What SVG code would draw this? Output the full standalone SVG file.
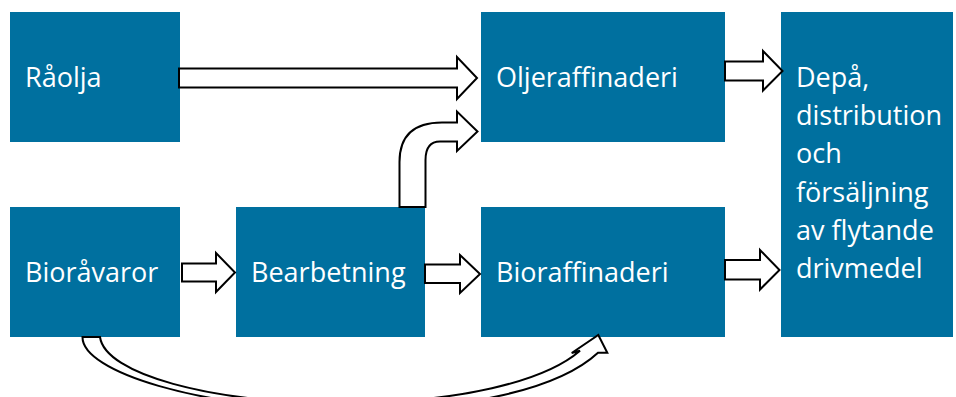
<svg xmlns="http://www.w3.org/2000/svg" width="956" height="397" viewBox="0 0 956 397">
  <style>
    .box { fill: #00709f; }
    .lbl { fill: #ffffff; font-family: "Open Sans", "Liberation Sans", sans-serif; font-size: 27px; }
    .arr { fill: #ffffff; stroke: #000000; stroke-width: 2; stroke-linejoin: miter; }
  </style>
  <rect width="956" height="397" fill="#ffffff"/>
  <g id="raolja">
    <rect class="box" x="10" y="12" width="170" height="130"/>
    <text class="lbl" x="25" y="87">Råolja</text>
  </g>
  <g id="oljeraffinaderi">
    <rect class="box" x="481" y="12" width="244" height="130"/>
    <text class="lbl" x="496" y="87">Oljeraffinaderi</text>
  </g>
  <g id="depa">
    <rect class="box" x="781" y="12" width="172" height="325"/>
    <text class="lbl" x="796" y="86.5">Depå,</text>
    <text class="lbl" x="796" y="125">distribution</text>
    <text class="lbl" x="796" y="163">och</text>
    <text class="lbl" x="796" y="201.5">försäljning</text>
    <text class="lbl" x="796" y="240">av flytande</text>
    <text class="lbl" x="796" y="278">drivmedel</text>
  </g>
  <g id="bioravaror">
    <rect class="box" x="10" y="207" width="170" height="130"/>
    <text class="lbl" x="25" y="281.5">Bioråvaror</text>
  </g>
  <g id="bearbetning">
    <rect class="box" x="236" y="207" width="189" height="130"/>
    <text class="lbl" x="251" y="281.5">Bearbetning</text>
  </g>
  <g id="bioraffinaderi">
    <rect class="box" x="481" y="207" width="244" height="130"/>
    <text class="lbl" x="496" y="281.5">Bioraffinaderi</text>
  </g>
  <g id="connectors">
    <polygon class="arr" points="179,68.5 457,68.5 457,57 477,78 457,99 457,87.5 179,87.5"/>
    <polygon class="arr" points="182,263.5 216,263.5 216,253 235,272.5 216,292 216,281.5 182,281.5"/>
    <polygon class="arr" points="425,264.5 460,264.5 460,255 480,274 460,293 460,283 425,283"/>
    <polygon class="arr" points="725,61.5 763,61.5 763,51 782.5,71 763,90.5 763,80.5 725,80.5"/>
    <polygon class="arr" points="725,260 760,260 760,250 779.5,270 760,289.5 760,279.5 725,279.5"/>
    <path class="arr" d="M399.5,207 L399.5,162 Q399.5,122.5 442,122.5 L457,122.5 L457,111.5 L477.5,131.5 L457,151 L457,141.5 L440,141.5 Q425.5,141.5 425.5,160 L425.5,207 Z"/>
    <path class="arr" d="M82.5,337 C82,372 200,408 340,410 C470,411 560,388 598,352.7 L607.3,352.7 L598.3,335 L571.7,353 L580,350.7 C545,381 460,403 340,403 C210,403 105,374 100,337 Z"/>
  </g>
</svg>
